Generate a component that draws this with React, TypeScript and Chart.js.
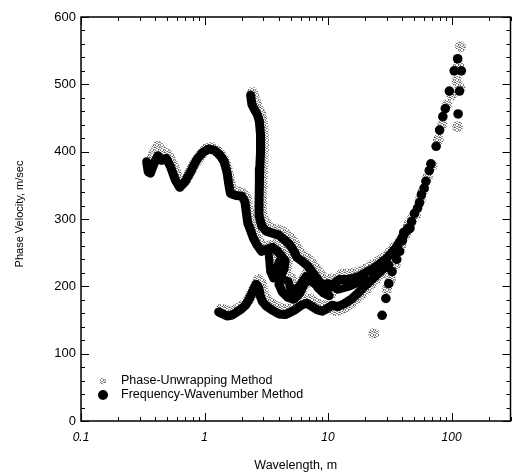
import { useEffect, useRef } from "react";
import { Chart, registerables } from "chart.js";

Chart.register(...registerables);

// ---------- Data ----------
// Frequency-Wavenumber method (black), continuous branches
const fkLoopWavelength = [0.34, 0.35, 0.365, 0.39, 0.42, 0.45, 0.49, 0.53, 0.58, 0.63, 0.7, 0.78, 0.87, 0.97, 1.08, 1.2, 1.32, 1.44, 1.52, 1.57, 1.62, 1.8, 2.0, 2.12, 2.18, 2.24, 2.36, 2.48, 2.65, 2.9, 3.2, 3.55, 3.9, 4.2, 4.5, 4.4, 4.1, 4.0, 4.25, 4.7, 5.3, 5.9, 6.4, 7.0, 7.6, 8.3, 9.2, 10.2];
const fkLoopVelocity = [385, 370, 368, 382, 394, 387, 390, 378, 358, 347, 356, 372, 389, 399, 404, 402, 396, 386, 370, 352, 338, 335, 334, 326, 310, 294, 283, 272, 262, 252, 255, 258, 252, 245, 238, 226, 214, 203, 192, 184, 181, 190, 203, 214, 208, 198, 190, 186];

const fkSteepWavelength = [2.36, 2.42, 2.55, 2.68, 2.78, 2.84, 2.84, 2.8, 2.78, 2.76, 2.76, 2.9, 3.15, 3.55, 4.0, 4.4, 4.9, 5.3, 5.6, 6.2, 6.8, 7.4, 8.2, 9.0, 9.8, 11.0, 12.3, 14.0, 16.0, 18.0, 20.0, 23.0, 26.0, 30.0, 35.0, 40.0, 44.0];
const fkSteepVelocity = [484, 470, 462, 455, 445, 425, 400, 375, 350, 325, 305, 290, 282, 279, 276, 270, 262, 252, 243, 237, 231, 222, 211, 201, 195, 203, 210, 210, 212, 215, 220, 226, 233, 242, 256, 272, 286];

const fkMidWavelength = [3.3, 3.4, 3.6, 4.0, 4.4, 4.2, 4.8, 5.0, 5.8, 6.6, 7.5, 8.5, 10.0, 12.0, 15.0, 20.0];
const fkMidVelocity = [250, 222, 212, 237, 232, 212, 207, 192, 200, 215, 205, 200, 205, 195, 200, 210];

const fkLowWavelength = [1.3, 1.4, 1.52, 1.65, 1.8, 1.98, 2.15, 2.3, 2.45, 2.62, 2.75, 2.82, 2.95, 3.15, 3.5, 4.0, 4.5, 4.9, 5.5, 6.1, 6.7, 7.4, 8.2, 9.0, 9.8, 10.8, 12.0, 13.5, 15.5, 17.5, 19.5, 22.0, 25.0, 28.0, 31.0];
const fkLowVelocity = [162, 159, 156, 157, 161, 166, 172, 181, 192, 203, 198, 186, 177, 171, 165, 159, 158, 161, 166, 172, 175, 170, 165, 163, 167, 172, 170, 174, 181, 190, 199, 208, 218, 226, 232];

// Frequency-Wavenumber method, separate points at long wavelengths
const fkDotWavelength = [27.4, 29.4, 31, 33, 36, 38, 40, 41, 44, 46, 47.5, 50, 53, 55, 57, 60, 62, 66, 68, 75, 80, 85, 89, 96, 116, 113, 105, 120, 112];
const fkDotVelocity = [157, 182, 204, 222, 240, 252, 268, 280, 284, 286, 296, 308, 316, 324, 336, 346, 356, 372, 382, 408, 432, 452, 464, 490, 490, 456, 520, 520, 538];

// Phase-Unwrapping method (grey), continuous branches
const puLoopWavelength = [0.36, 0.39, 0.42, 0.45, 0.5, 0.55, 0.61, 0.66, 0.73, 0.82, 0.92, 1.03, 1.15, 1.28, 1.42, 1.52, 1.6, 1.66, 1.85, 2.05, 2.2, 2.26, 2.32, 2.45, 2.58, 2.78, 3.05, 3.35, 3.75, 4.1, 4.45, 4.75, 4.6, 4.3, 4.2, 4.45, 4.95, 5.55, 6.2, 6.7, 7.3, 7.9, 8.7, 9.6, 10.7];
const puLoopVelocity = [378, 398, 408, 400, 396, 382, 360, 352, 362, 380, 394, 404, 406, 400, 390, 376, 356, 342, 340, 338, 330, 312, 298, 288, 276, 266, 256, 260, 262, 256, 248, 240, 228, 216, 206, 196, 188, 186, 195, 208, 218, 212, 202, 194, 190];

const puSteepWavelength = [2.45, 2.55, 2.7, 2.85, 2.96, 3.0, 2.97, 2.93, 2.9, 2.88, 3.05, 3.35, 3.75, 4.2, 4.65, 5.15, 5.55, 5.95, 6.5, 7.2, 7.8, 8.6, 9.5, 10.3, 11.6, 13.0, 14.8, 17.0, 19.0, 21.2, 24.0, 27.5, 31.5, 37.0, 42.0, 46.0];
const puSteepVelocity = [488, 476, 466, 456, 440, 412, 385, 360, 335, 312, 296, 288, 285, 282, 276, 268, 258, 249, 243, 237, 228, 218, 208, 202, 210, 218, 218, 220, 223, 228, 234, 240, 250, 263, 278, 292];

const puMidWavelength = [3.45, 3.55, 3.8, 4.2, 4.6, 4.45, 5.0, 5.3, 6.1, 6.9, 7.9, 9.0, 10.6, 12.7, 15.8, 21.0];
const puMidVelocity = [256, 228, 218, 243, 238, 218, 213, 198, 206, 221, 211, 206, 211, 201, 206, 216];

const puLowWavelength = [1.36, 1.48, 1.62, 1.76, 1.92, 2.1, 2.28, 2.42, 2.58, 2.72, 2.88, 2.98, 3.12, 3.35, 3.75, 4.25, 4.8, 5.3, 5.9, 6.5, 7.1, 7.9, 8.8, 9.7, 10.6, 11.6, 12.9, 14.5, 16.5, 18.5, 21.0, 23.5, 26.5, 29.5];
const puLowVelocity = [166, 164, 162, 164, 168, 173, 180, 190, 200, 210, 204, 192, 183, 176, 170, 166, 166, 170, 174, 180, 182, 176, 172, 171, 166, 164, 166, 172, 180, 188, 198, 208, 218, 226];

// Phase-Unwrapping method, separate points at long wavelengths
const puDotWavelength = [23.5, 30, 32, 35, 39, 42, 45, 48, 51, 56, 59, 64, 70, 78, 84, 92, 100, 112, 117, 114, 118, 110];
const puDotVelocity = [130, 196, 210, 232, 260, 276, 292, 300, 306, 330, 342, 362, 380, 418, 440, 470, 484, 437, 494, 528, 556, 505];

// Axis ticks
const xTickValues = [0.1, 1, 10, 100];
const yTickStep = 100;
const yMinorStep = 20;

const seriesNames = ["Phase-Unwrapping Method", "Frequency-Wavenumber Method"];

// ---------- helpers ----------
const FONT = "'Liberation Sans', Arial, Helvetica, sans-serif";

function toPoints(xs: number[], ys: number[]) {
  return xs.map((x, i) => ({ x, y: ys[i] }));
}

function makeStipple(): CanvasPattern | string {
  const c = document.createElement("canvas");
  c.width = 5;
  c.height = 5;
  const g = c.getContext("2d");
  if (!g) return "#999";
  g.fillStyle = "#6e6e6e";
  const dark = [[0, 0], [2, 1], [4, 2], [1, 3], [3, 4], [3, 0], [0, 2]];
  for (const [px, py] of dark) g.fillRect(px, py, 1, 1);
  g.fillStyle = "#a8a8a8";
  const mid = [[1, 1], [3, 2], [0, 4], [2, 3], [4, 4], [4, 1]];
  for (const [px, py] of mid) g.fillRect(px, py, 1, 1);
  return g.createPattern(c, "repeat") || "#999";
}

export default function App() {
  const canvasRef = useRef<HTMLCanvasElement | null>(null);

  useEffect(() => {
    const canvas = canvasRef.current;
    if (!canvas) return;
    const stipple = makeStipple();

    const lineDs = (label: string, xs: number[], ys: number[], color: any, width: number, order: number) => ({
      label,
      data: toPoints(xs, ys),
      showLine: true,
      borderColor: color,
      backgroundColor: color,
      borderWidth: width,
      borderCapStyle: "round" as const,
      borderJoinStyle: "round" as const,
      pointRadius: 0,
      tension: 0,
      order,
    });
    const dotDs = (label: string, xs: number[], ys: number[], color: any, r: number, order: number) => ({
      label,
      data: toPoints(xs, ys),
      showLine: false,
      backgroundColor: color,
      borderColor: color,
      borderWidth: 0,
      pointRadius: r,
      pointHoverRadius: r,
      order,
    });

    const framePlugin = {
      id: "frameAndText",
      afterDraw(chart: any) {
        const { ctx, chartArea } = chart;
        const { left, right, top, bottom } = chartArea;
        const xs = chart.scales.x;
        const ys = chart.scales.y;
        ctx.save();
        ctx.strokeStyle = "#000";
        ctx.lineWidth = 1;
        const line = (x1: number, y1: number, x2: number, y2: number) => {
          ctx.beginPath();
          ctx.moveTo(x1, y1);
          ctx.lineTo(x2, y2);
          ctx.stroke();
        };
        // x ticks (log, inward, bottom and top)
        for (let e = -1; e <= 2; e++) {
          for (let k = 1; k <= 9; k++) {
            const v = k * Math.pow(10, e);
            if (v < xs.min * 0.999 || v > xs.max * 1.001) continue;
            const px = Math.round(xs.getPixelForValue(v)) + 0.5;
            const len = k === 1 ? 8 : 4;
            line(px, bottom, px, bottom - len);
            line(px, top, px, top + len);
          }
        }
        // y ticks (inward, left and right)
        for (let v = 0; v <= 600; v += yMinorStep) {
          const py = Math.round(ys.getPixelForValue(v)) + 0.5;
          const len = v % yTickStep === 0 ? 8 : 4;
          line(left, py, left + len, py);
          line(right, py, right - len, py);
        }
        ctx.lineWidth = 1.5;
        ctx.strokeRect(left, top, right - left, bottom - top);

        // legend inside the plot
        ctx.fillStyle = stipple as any;
        ctx.beginPath();
        ctx.arc(103, 381, 3.2, 0, Math.PI * 2);
        ctx.fill();
        ctx.fillStyle = "#000";
        ctx.beginPath();
        ctx.arc(103, 395, 5, 0, Math.PI * 2);
        ctx.fill();
        ctx.font = `12.5px ${FONT}`;
        ctx.textBaseline = "middle";
        ctx.textAlign = "left";
        ctx.fillText(seriesNames[0], 121, 381);
        ctx.fillText(seriesNames[1], 121, 395);

        // axis titles
        ctx.font = `12.5px ${FONT}`;
        ctx.textAlign = "center";
        ctx.fillText("Wavelength, m", (left + right) / 2, 466);
        ctx.save();
        ctx.translate(20, 214);
        ctx.rotate(-Math.PI / 2);
        ctx.font = `11px ${FONT}`;
        ctx.fillText("Phase Velocity, m/sec", 0, 0);
        ctx.restore();
        ctx.restore();
      },
    };

    const chart = new Chart(canvas, {
      type: "scatter",
      data: {
        datasets: [
          lineDs(seriesNames[0], puLoopWavelength, puLoopVelocity, stipple, 11, 5),
          lineDs(seriesNames[0], puSteepWavelength, puSteepVelocity, stipple, 11, 5),
          lineDs(seriesNames[0], puMidWavelength, puMidVelocity, stipple, 11, 5),
          lineDs(seriesNames[0], puLowWavelength, puLowVelocity, stipple, 11, 5),
          dotDs(seriesNames[0], puDotWavelength, puDotVelocity, stipple, 5.5, 5),
          lineDs(seriesNames[1], fkLoopWavelength, fkLoopVelocity, "#000", 9, 1),
          lineDs(seriesNames[1], fkSteepWavelength, fkSteepVelocity, "#000", 9, 1),
          lineDs(seriesNames[1], fkMidWavelength, fkMidVelocity, "#000", 8, 1),
          lineDs(seriesNames[1], fkLowWavelength, fkLowVelocity, "#000", 9, 1),
          dotDs(seriesNames[1], fkDotWavelength, fkDotVelocity, "#000", 4.8, 1),
        ] as any,
      },
      options: {
        animation: false,
        responsive: true,
        maintainAspectRatio: false,
        layout: { padding: { top: 17, right: 4, left: 0, bottom: 0 } },
        plugins: {
          legend: { display: false },
          tooltip: { enabled: false },
          title: { display: false },
        },
        scales: {
          x: {
            type: "logarithmic",
            min: 0.1,
            max: 300,
            position: "bottom",
            afterBuildTicks: (scale: any) => {
              scale.ticks = xTickValues.map((v) => ({ value: v }));
            },
            afterFit: (scale: any) => {
              scale.height = 53;
            },
            grid: { display: false, drawTicks: false },
            border: { display: false },
            ticks: {
              autoSkip: false,
              maxRotation: 0,
              padding: 9,
              color: "#000",
              font: { family: FONT, size: 12, style: "italic" },
              callback: (v: any) => String(v),
            },
          },
          y: {
            type: "linear",
            min: 0,
            max: 600,
            afterFit: (scale: any) => {
              scale.width = 81;
            },
            grid: { display: false, drawTicks: false },
            border: { display: false },
            ticks: {
              stepSize: yTickStep,
              padding: 5,
              color: "#000",
              font: { family: FONT, size: 13 },
            },
          },
        },
      } as any,
      plugins: [framePlugin],
    });

    return () => chart.destroy();
  }, []);

  return (
    <div style={{ position: "fixed", left: 0, top: 0, width: 516, height: 474, background: "#fff" }}>
      <canvas ref={canvasRef} />
    </div>
  );
}
